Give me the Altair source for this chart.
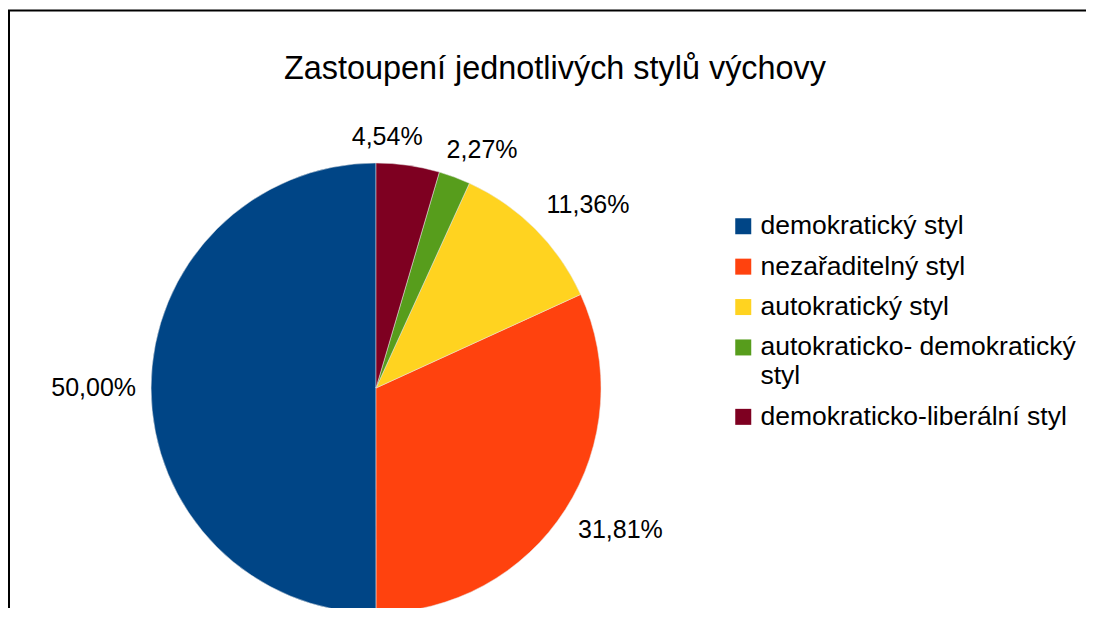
import altair as alt
import pandas as pd

# ---- data (legend order) ----
styles = ["demokratický styl", "nezařaditelný styl", "autokratický styl",
          "autokraticko- demokratický styl", "demokraticko-liberální styl"]
shares = [50.00, 31.81, 11.36, 2.27, 4.54]
colors = ["#004586", "#ff420e", "#ffd320", "#579d1c", "#7e0021"]
title_text = "Zastoupení jednotlivých stylů výchovy"

df = pd.DataFrame({"style": styles, "value": shares, "idx": list(range(len(styles)))})

# ---- layout constants ----
W, H = 1078, 514
PAD_TOP = 86
CX, CY, R = 368, 294, 225
FONT = "Liberation Sans"
LABEL_FS = 25
RL, K, HH, GAP = 240, 1.8, 13, 24
LX, LY = 722, 119

base = alt.Chart(df)

pie = base.mark_arc(outerRadius=R, stroke="#e6e6e6", strokeWidth=0.5).encode(
    theta=alt.Theta("value:Q", stack=True),
    order=alt.Order("idx:Q", sort="descending"),
    color=alt.Color(
        "style:N",
        scale=alt.Scale(domain=styles, range=colors),
        legend=alt.Legend(
            title=None, orient="none", legendX=LX, legendY=LY,
            symbolType="square", symbolSize=256, symbolStrokeWidth=0,
            labelFont=FONT, labelFontSize=26.5, labelColor="black",
            labelLimit=500, labelOffset=4, rowPadding=13.4, padding=0,
            labelExpr=("length(datum.label) > 28 ? "
                       "[substring(datum.label, 0, lastindexof(datum.label, ' ')), "
                       "substring(datum.label, lastindexof(datum.label, ' ') + 1)] : datum.label"),
        ),
    ),
    x=alt.value(CX),
    y=alt.value(CY),
)

sort_cw = [alt.SortField("idx", order="descending")]

labels = (
    base.transform_window(cum="sum(value)", sort=sort_cw, frame=[None, 0])
    .transform_joinaggregate(total="sum(value)")
    .transform_calculate(
        a="2*PI*(datum.cum - datum.value/2)/datum.total",
        label="replace(format(datum.value, '.2f'), '.', ',') + '%'",
    )
    .transform_calculate(hw=f"{LABEL_FS}*(0.556*(length(datum.label)-2)+1.167)/2")
    .transform_calculate(
        cx0=f"{CX} + {RL}*sin(datum.a) + datum.hw*clamp({K}*sin(datum.a), -1, 1)",
        cy=f"{CY} - {RL}*cos(datum.a) - {HH}*clamp({K}*cos(datum.a), -1, 1)",
    )
    .transform_calculate(left0="datum.cx0 - datum.hw")
    .transform_window(next_left="lead(left0)", next_cy="lead(cy)", sort=sort_cw)
    .transform_calculate(
        cx=(f"(isValid(datum.next_left) && abs(datum.cy - datum.next_cy) < {2*HH+4} "
            f"&& datum.cx0 + datum.hw + {GAP} > datum.next_left) "
            f"? datum.next_left - {GAP} - datum.hw : datum.cx0")
    )
    .mark_text(font=FONT, fontSize=LABEL_FS, color="black", align="center", baseline="middle")
    .encode(
        x=alt.X("cx:Q", scale=None, axis=None),
        y=alt.Y("cy:Q", scale=None, axis=None),
        text="label:N",
    )
)

frame_df = pd.DataFrame({"k": [0]})
top_line = alt.Chart(frame_df).mark_rule(color="black", strokeWidth=2).encode(
    x=alt.value(0), x2=alt.value(W), y=alt.value(-83.5)
)
left_line = alt.Chart(frame_df).mark_rule(color="black", strokeWidth=2).encode(
    x=alt.value(1), y=alt.value(-83.5), y2=alt.value(H)
)

chart = (
    alt.layer(top_line, left_line, pie, labels)
    .properties(
        width=W, height=H,
        title=alt.TitleParams(title_text, font=FONT, fontSize=32.4, fontWeight="normal",
                              color="black", anchor="middle", offset=0, dx=8, dy=76),
        autosize=alt.AutoSizeParams(type="none"),
        padding={"left": 0, "top": PAD_TOP, "right": 0, "bottom": 0},
        background="white",
    )
    .configure_view(stroke=None)
)

chart.save("out.html", embed_options={"renderer": "svg", "actions": False})
